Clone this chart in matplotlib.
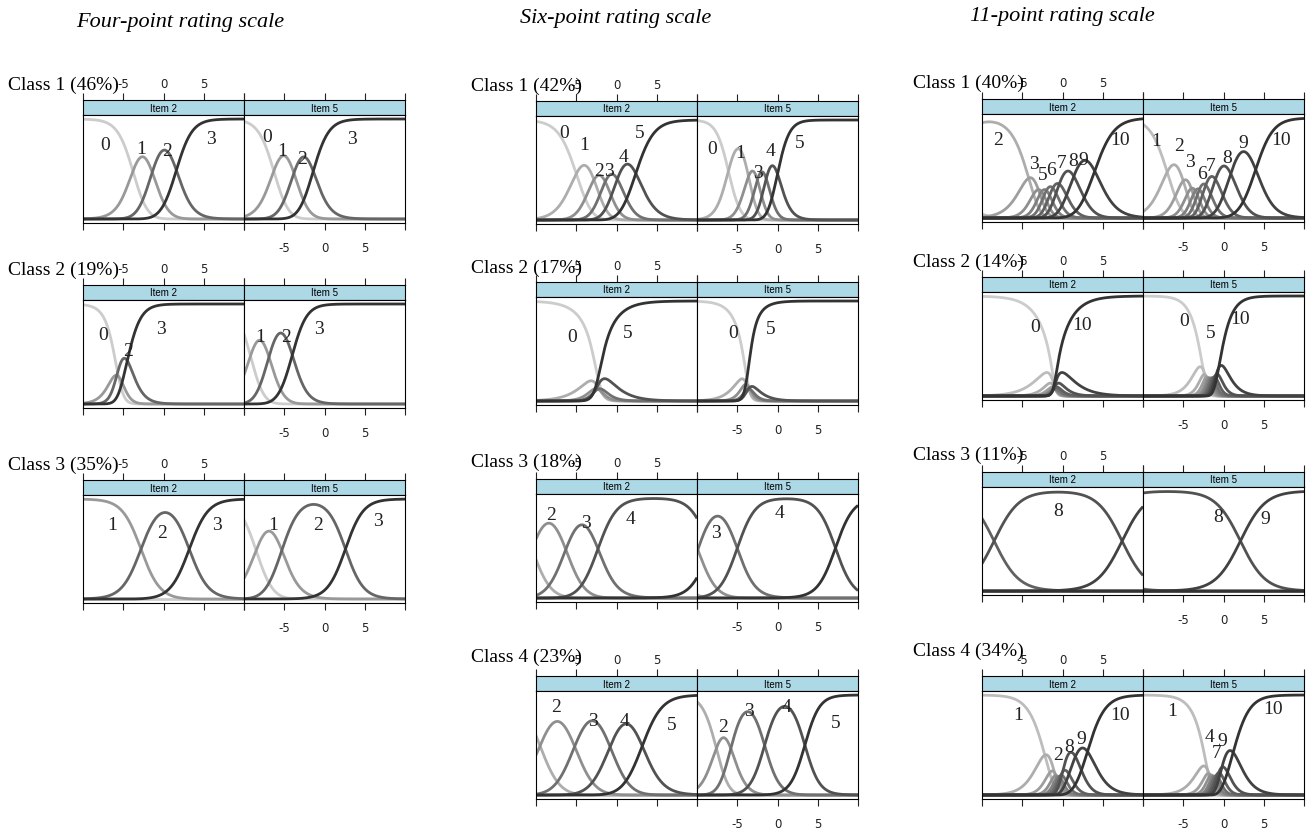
import numpy as np
import matplotlib.pyplot as plt

W, H = 1312, 829
theta = np.linspace(-10, 10, 600)

# column titles / class labels
titles = ["Four-point rating scale", "Six-point rating scale", "11-point rating scale"]
four_classes = ["Class 1 (46%)", "Class 2 (19%)", "Class 3 (35%)"]
six_classes = ["Class 1 (42%)", "Class 2 (17%)", "Class 3 (18%)", "Class 4 (23%)"]
eleven_classes = ["Class 1 (40%)", "Class 2 (14%)", "Class 3 (11%)", "Class 4 (34%)"]
items = ["Item 2", "Item 5"]
tick_vals = [-10, -5, 0, 5, 10]
tick_text = ["", "-5", "0", "5", ""]

# slopes (item 2, item 5) per class
four_a = [(1.0, 1.0), (1.1, 1.1), (0.85, 0.9)]
six_a = [(0.85, 1.3), (0.6, 0.85), (0.85, 0.9), (0.8, 1.1)]
eleven_a = [(0.8, 0.9), (0.6, 1.0), (0.65, 0.65), (0.85, 0.9)]

# step thresholds (item 2, item 5) per class
four_b = [
    ([-3.8, -1.4, 1.6], [-6.3, -3.8, -1.4]),
    ([-5.6, -5.8, -4.5], [-9.2, -6.9, -4.0]),
    ([-25, -2.8, 3.2], [-8.5, -5.3, 2.6]),
]
six_b = [
    ([-5.0, -2.8, -1.4, 0.1, 2.4], [-6.1, -3.6, -2.5, -1.4, 0.0]),
    ([-1.5, -2.0, -2.3, -2.8, -2.9], [-3.4, -3.8, -3.4, -3.6, -4.8]),
    ([-25, -10.5, -6.3, -2.3, 11.6], [-25, -13, -9.9, -5.0, 7.2]),
    ([-25, -9.5, -5.2, -0.8, 3.2], [-25, -7.6, -5.8, -1.6, 3.4]),
]
eleven_b = [
    ([-25, -14, -4.2, -3.0, -2.6, -2.0, -1.2, -0.4, 1.4, 4.0],
     [-25, -7.0, -5.0, -4.0, -3.5, -3.0, -2.2, -1.0, 0.9, 4.0]),
    ([-0.6, -0.7, -0.8, -0.9, -1.0, -1.0, -1.1, -1.2, -1.3, -1.4],
     [-2.5, -2.3, -2.1, -1.9, -1.7, -1.5, -1.3, -1.1, -0.9, -0.6]),
    ([-25, -25, -25, -25, -25, -25, -25, -8.5, 7.4, 25],
     [-25, -25, -25, -25, -25, -25, -25, -16, 2.1, 25]),
    ([-25, -2.2, -1.0, -0.8, -0.6, -0.4, -0.2, 0.0, 1.6, 3.1],
     [-25, -2.0, -1.8, -1.6, -1.3, -1.1, -0.9, -0.6, -0.2, 1.2]),
]

# category labels (text, theta, prob)
four_lab = [
    ([("0", -7.3, 0.75), ("1", -2.8, 0.71), ("2", 0.5, 0.69), ("3", 5.9, 0.80)],
     [("0", -7.1, 0.83), ("1", -5.3, 0.69), ("2", -2.8, 0.61), ("3", 3.4, 0.80)]),
    ([("0", -7.5, 0.69), ("2", -4.4, 0.53), ("3", -0.3, 0.76)],
     [("1", -8.0, 0.67), ("2", -4.8, 0.67), ("3", -0.7, 0.75)]),
    ([("1", -6.4, 0.75), ("2", -0.2, 0.66), ("3", 6.6, 0.74)],
     [("1", -6.4, 0.74), ("2", -0.8, 0.75), ("3", 6.6, 0.78)]),
]
six_lab = [
    ([("0", -6.5, 0.87), ("1", -4.0, 0.76), ("2", -2.2, 0.50), ("3", -0.9, 0.50),
      ("4", 0.9, 0.64), ("5", 2.9, 0.87)],
     [("0", -8.1, 0.72), ("1", -4.6, 0.67), ("3", -2.4, 0.48), ("4", -0.9, 0.69),
      ("5", 2.8, 0.77)]),
    ([("0", -5.5, 0.64), ("5", 1.4, 0.68)],
     [("0", -5.5, 0.68), ("5", -0.9, 0.72)]),
    ([("2", -8.1, 0.83), ("3", -3.8, 0.76), ("4", 1.7, 0.79)],
     [("3", -7.6, 0.66), ("4", 0.3, 0.85)]),
    ([("2", -7.5, 0.88), ("3", -2.9, 0.75), ("4", 1.05, 0.75), ("5", 6.8, 0.71)],
     [("2", -6.8, 0.68), ("3", -3.5, 0.85), ("4", 1.1, 0.89), ("5", 7.2, 0.73)]),
]
eleven_lab = [
    ([("2", -8.0, 0.78), ("3", -3.6, 0.54), ("5", -2.5, 0.43), ("6", -1.4, 0.48),
      ("7", -0.1, 0.55), ("8", 1.3, 0.57), ("9", 2.6, 0.58), ("10", 7.1, 0.78)],
     [("1", -8.4, 0.77), ("2", -5.5, 0.72), ("3", -4.2, 0.56), ("6", -2.7, 0.44),
      ("7", -1.6, 0.52), ("8", 0.4, 0.60), ("9", 2.4, 0.75), ("10", 7.1, 0.78)]),
    ([("0", -3.4, 0.69), ("10", 2.4, 0.71)],
     [("0", -4.9, 0.76), ("5", -1.6, 0.64), ("10", 2.1, 0.78)]),
    ([("8", -0.5, 0.81)],
     [("8", -0.7, 0.74), ("9", 5.2, 0.72)]),
    ([("1", -5.5, 0.80), ("2", -0.6, 0.40), ("8", 0.8, 0.49), ("9", 2.3, 0.56),
      ("10", 7.2, 0.80)],
     [("1", -6.4, 0.84), ("4", -1.7, 0.58), ("7", -0.8, 0.42), ("9", -0.2, 0.55),
      ("10", 6.2, 0.86)]),
]

# layout in pixels
col_x0 = [83, 536, 982]
col_strip = [[101, 286, 481], [102, 283, 480, 677], [100, 278, 473, 677]]
col_label_x = [8, 471, 913]
col_label_y = [[85, 270, 465], [86, 268, 462, 657], [83, 262, 455, 651]]
title_xy = [(180, 22), (616, 19), (1062, 17)]
pw, sh, ph = 161, 15, 108

serif = ["Liberation Serif", "DejaVu Serif"]
sans = ["Liberation Sans", "DejaVu Sans"]


def gpcm(a, b):
    steps = a * (theta[None, :] - np.asarray(b, float)[:, None])
    z = np.vstack([np.zeros_like(theta), np.cumsum(steps, axis=0)])
    z -= z.max(axis=0)
    p = np.exp(z)
    return p / p.sum(axis=0)


def box(x, y, w, h):
    return [x / W, 1 - (y + h) / H, w / W, h / H]


fig = plt.figure(figsize=(W / 100, H / 100), dpi=100)

for (tx, ty), t in zip(title_xy, titles):
    fig.text(tx / W, 1 - ty / H, t, ha="center", va="center", fontsize=16,
             style="italic", family=serif)

columns = [
    (four_classes, four_a, four_b, four_lab),
    (six_classes, six_a, six_b, six_lab),
    (eleven_classes, eleven_a, eleven_b, eleven_lab),
]

for c, (classes, slopes, thresholds, labels) in enumerate(columns):
    for r, cname in enumerate(classes):
        top = col_strip[c][r]
        fig.text(col_label_x[c] / W, 1 - col_label_y[c][r] / H, cname,
                 ha="left", va="center", fontsize=14, family=serif)
        for i in range(2):
            x = col_x0[c] + i * pw
            # strip
            st = fig.add_axes(box(x, top, pw, sh))
            st.set_facecolor("#add8e6")
            st.set_xlim(-10, 10)
            st.set_ylim(0, 1)
            st.set_yticks([])
            st.set_xticks(tick_vals)
            st.xaxis.tick_top()
            st.set_xticklabels(tick_text if i == 0 else [""] * 5)
            st.tick_params(axis="x", length=5, width=0.8, pad=2, labelsize=8.5,
                           colors="#222222")
            for s in st.spines.values():
                s.set_linewidth(0.8)
            st.text(0, 0.5, items[i], ha="center", va="center", fontsize=7,
                    family=sans)
            # curves
            ax = fig.add_axes(box(x, top + sh, pw, ph))
            probs = gpcm(slopes[r][i], thresholds[r][i])
            k = probs.shape[0]
            greys = np.linspace(0.8, 0.2, k)
            for j in range(k):
                ax.plot(theta, probs[j], color=str(greys[j]), lw=2.0,
                        solid_capstyle="butt")
            for txt, lx, ly in labels[r][i]:
                ax.text(lx, ly, txt, ha="center", va="center", fontsize=14,
                        family=serif, color="#222222")
            ax.set_xlim(-10, 10)
            ax.set_ylim(-0.04, 1.04)
            ax.set_yticks([])
            ax.set_xticks(tick_vals)
            ax.set_xticklabels(tick_text if i == 1 else [""] * 5)
            ax.tick_params(axis="x", length=5, width=0.8, pad=8, labelsize=8.5,
                           colors="#222222")
            for s in ax.spines.values():
                s.set_linewidth(0.8)

fig.savefig("out.png", dpi=100)
